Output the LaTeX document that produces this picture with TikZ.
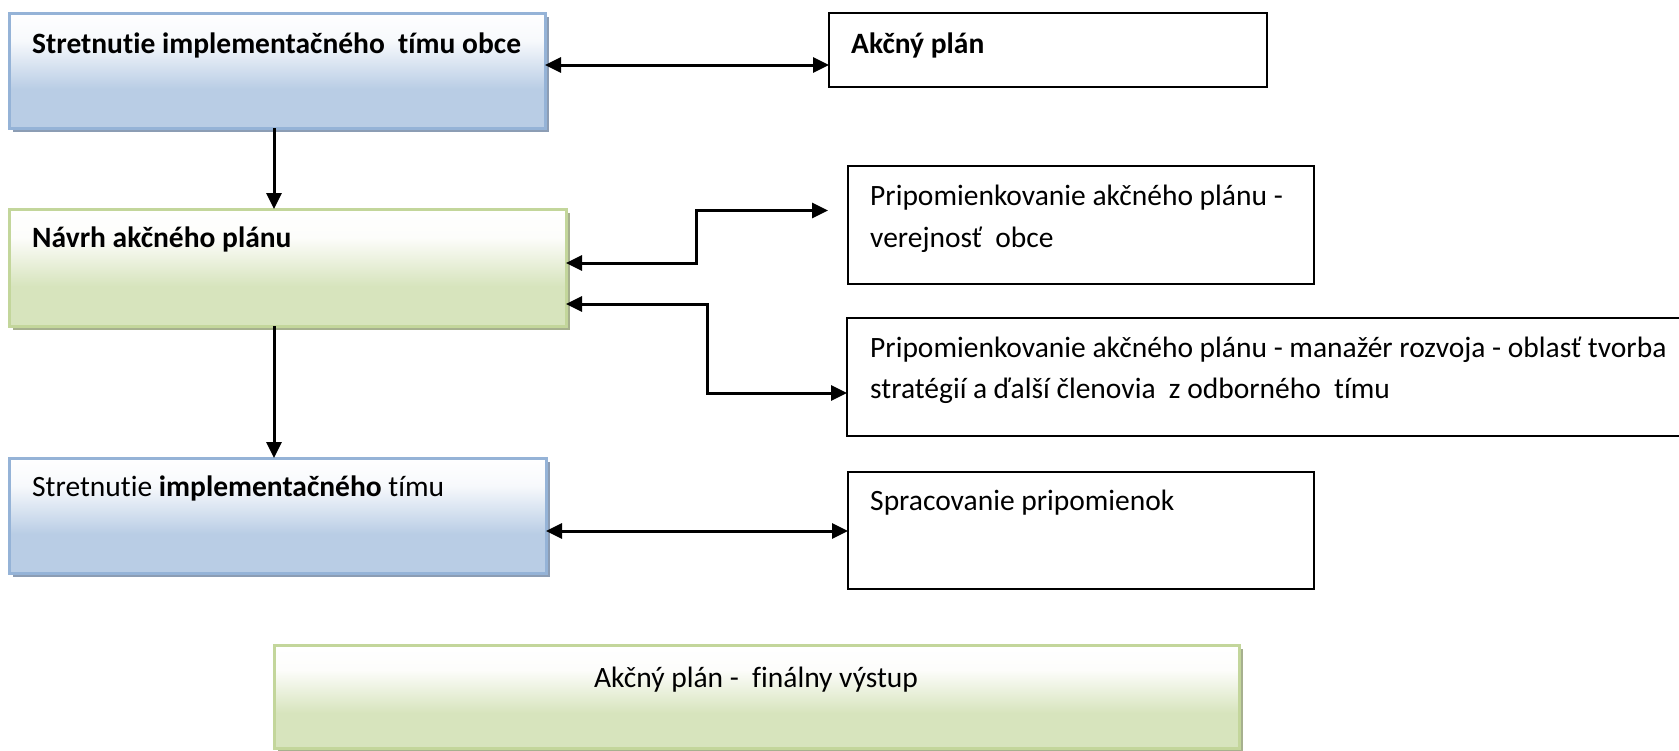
\documentclass[tikz,border=0pt]{standalone}
\usepackage{fontspec}
\setmainfont{Carlito}[Ligatures=NoCommon]
\usetikzlibrary{arrows.meta,shadows,calc}

\definecolor{blueTop}{HTML}{F7F9FC}
\definecolor{blueBot}{HTML}{B9CDE5}
\definecolor{blueLine}{HTML}{95B3D7}
\definecolor{blueShadow}{HTML}{8C9DB4}
\definecolor{greenTop}{HTML}{FDFDFB}
\definecolor{greenBot}{HTML}{D7E4BD}
\definecolor{greenLine}{HTML}{C3D69B}
\definecolor{greenShadow}{HTML}{A6B08E}

% vertical fills: solid colour at the bottom, fading to white at the top
\pgfdeclareverticalshading{blueshade}{100bp}{color(0bp)=(blueBot); color(25bp)=(blueBot); color(42bp)=(blueBot); color(63bp)=(blueTop); color(75bp)=(white); color(100bp)=(white)}
\pgfdeclareverticalshading{greenshade}{100bp}{color(0bp)=(greenBot); color(25bp)=(greenBot); color(42bp)=(greenBot); color(63bp)=(greenTop); color(75bp)=(white); color(100bp)=(white)}

\tikzset{
  boxbase/.style={anchor=north west, inner sep=0pt, outer sep=0pt},
  bluebox/.style={boxbase, draw=blueLine, line width=3pt, shade, shading=blueshade,
    drop shadow={shadow xshift=4pt, shadow yshift=-4pt, fill=blueShadow, opacity=1}},
  greenbox/.style={boxbase, draw=greenLine, line width=3pt, shade, shading=greenshade,
    drop shadow={shadow xshift=4pt, shadow yshift=-4pt, fill=greenShadow, opacity=1}},
  whitebox/.style={boxbase, draw=black, line width=2pt, fill=white},
  txt/.style={anchor=base west, inner sep=0pt, font=\fontsize{29.5}{42}\selectfont},
  both/.style={line width=3pt, {Triangle[length=16pt,width=15pt]}-{Triangle[length=16pt,width=15pt]}},
  down/.style={line width=3pt, -{Triangle[length=16pt,width=15pt]}},
}

\begin{document}
\begin{tikzpicture}[x=1pt,y=-1pt]
\useasboundingbox (0,0) rectangle (1679,750);

% left column
\node[bluebox,  minimum width=536pt, minimum height=115pt] (A) at (9,13) {};
\node[greenbox, minimum width=557pt, minimum height=117pt] (C) at (9,209) {};
\node[bluebox,  minimum width=537pt, minimum height=115pt] (F) at (9,458) {};
\node[greenbox, minimum width=965pt, minimum height=103pt] (H) at (274,645) {};

% right column
\node[whitebox, minimum width=438pt, minimum height=74pt]  (B) at (829,13) {};
\node[whitebox, minimum width=466pt, minimum height=118pt] (D) at (848,166) {};
\node[whitebox, minimum width=850pt, minimum height=118pt] (E) at (847,318) {};
\node[whitebox, minimum width=466pt, minimum height=117pt] (G) at (848,472) {};

% texts
\node[txt] (tA) at (32,53) {\textbf{Stretnutie implementačného\ \ tímu obce}};
\node[txt] (tB) at (851,53) {\textbf{Akčný plán}};
\node[txt] (tC) at (32,247) {\textbf{Návrh akčného plánu}};
\node[txt] (tD1) at (870,205) {Pripomienkovanie akčného plánu -};
\node[txt] (tD2) at (870,247) {verejnosť\ \ obce};
\node[txt] (tE1) at (870,357) {Pripomienkovanie akčného plánu - manažér rozvoja - oblasť tvorba};
\node[txt] (tE2) at (870,398) {stratégií a ďalší členovia\ \ z odborného\ \ tímu};
\node[txt] (tF) at (32,496) {Stretnutie \textbf{implementačného} tímu};
\node[txt] (tG) at (870,510) {Spracovanie pripomienok};
\node[anchor=base, inner sep=0pt, font=\fontsize{29.5}{42}\selectfont] (tH) at (756,687) {Akčný plán -\ \ finálny výstup};

% connectors
\draw[both] ([yshift=5.5pt]A.east) -- ([yshift=5.5pt]A.east -| B.west);
\draw[down] ([xshift=-3pt]A.south) -- ([xshift=-3pt]A.south |- C.north);
\draw[down] ([xshift=-13.5pt]C.south) -- ([xshift=-13.5pt]C.south |- F.north);
\draw[both] ([yshift=4.5pt]C.east) -- ++(130,0) |- ([xshift=-20pt,yshift=14.5pt]D.west);
\draw[both] ([yshift=-36.5pt]C.east) -- ++(141,0) |- ([yshift=-16pt]E.west);
\draw[both] ([yshift=-15.5pt]F.east) -- ([yshift=-15.5pt]F.east -| G.west);
\end{tikzpicture}
\end{document}
